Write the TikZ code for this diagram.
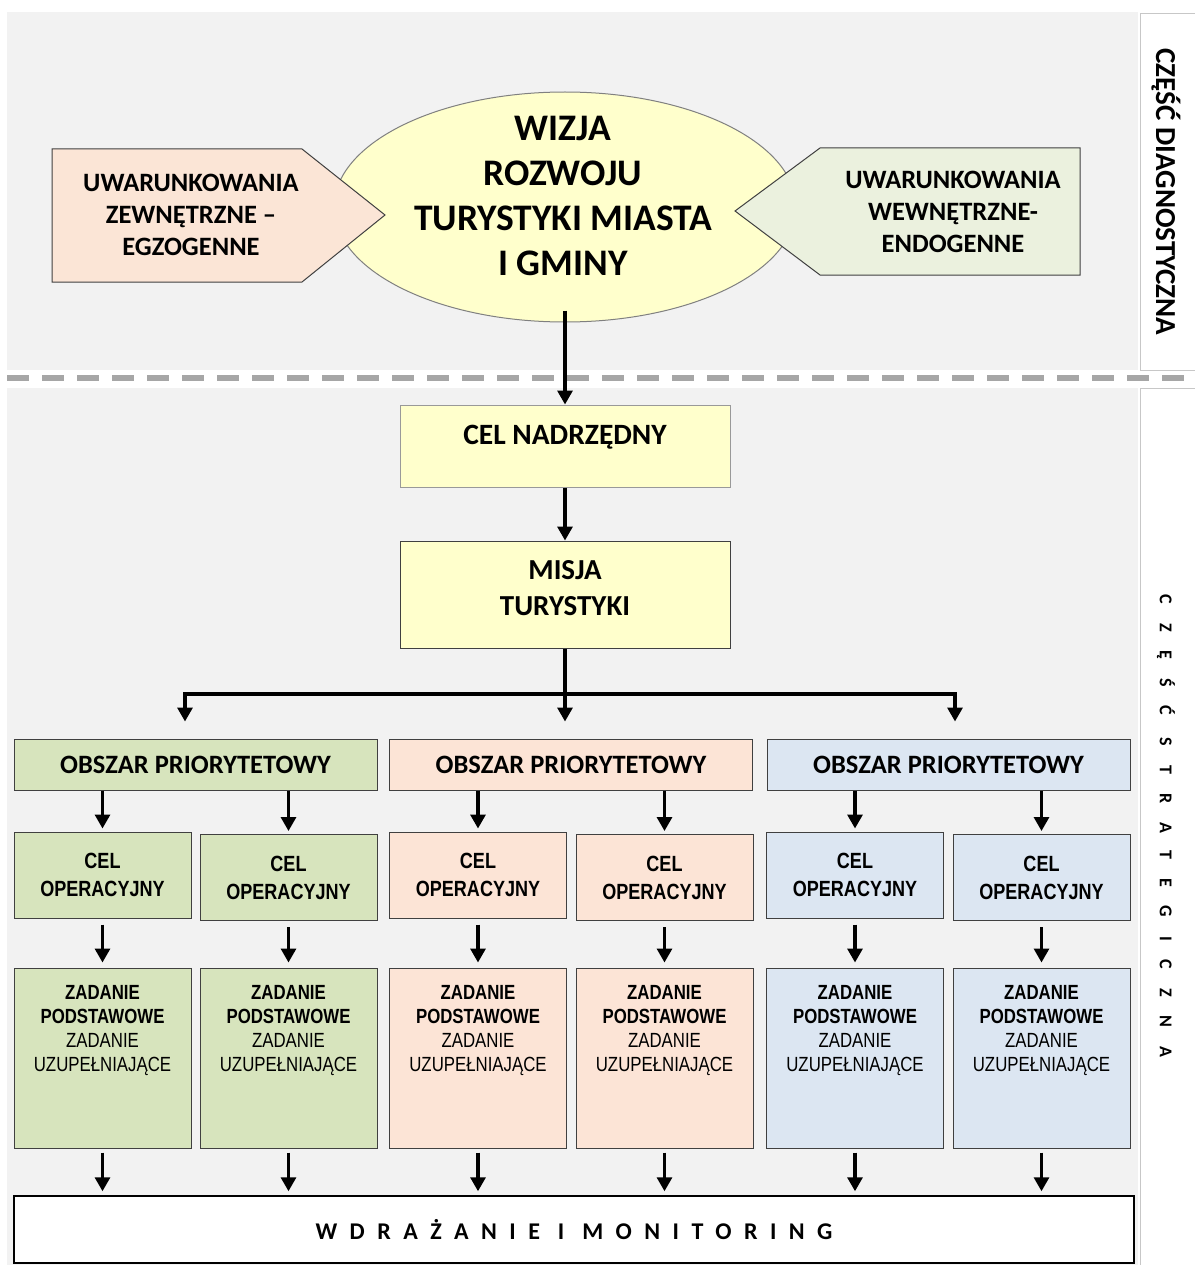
\documentclass[tikz,border=0pt]{standalone}
\usepackage{fontspec}
\setmainfont{Carlito}
\newfontfamily\narrowfont[FakeStretch=0.82]{Liberation Sans}
\usetikzlibrary{shapes.geometric,arrows.meta}

\definecolor{panelgray}{HTML}{F2F2F2}
\definecolor{visionyellow}{HTML}{FFFFCC}
\definecolor{extorange}{HTML}{FBE5D6}
\definecolor{intgreen}{HTML}{EBF1DE}
\definecolor{areagreen}{HTML}{D7E4BD}
\definecolor{areaorange}{HTML}{FCE4D6}
\definecolor{areablue}{HTML}{DCE6F2}

\newcommand\setfs[2]{\fontsize{#1}{#2}\selectfont}

\tikzset{
  frame/.style={draw=black!75, line width=1pt, inner sep=0pt, align=center},
  flow/.style={line width=3.2pt, -{Triangle[width=15pt,length=14pt]}},
  areabox/.style={frame, minimum width=363, minimum height=51, font=\bfseries\setfs{26.5}{30}},
  opbox/.style={frame, minimum width=177, minimum height=86, font=\narrowfont\bfseries\setfs{22}{28}},
  taskbox/.style={frame, minimum width=177, minimum height=180, text depth=59pt, font=\narrowfont\setfs{20.5}{24}},
}

\begin{document}
\begin{tikzpicture}[x=1pt,y=-1pt]
  \useasboundingbox (0,0) rectangle (1194,1265);

  %%%%% background %%%%%
  \fill[panelgray] (7,12) rectangle (1138,370);
  \fill[panelgray] (7,388) rectangle (1138,1265);
  \draw[black!22, fill=white] (1140,13) rectangle (1197,370);
  \draw[black!22, fill=white] (1140,388) rectangle (1197,1268);
  \draw[black!35, line width=6pt, dash pattern=on 22pt off 13pt] (7,378) -- (1194,378);

  \node[rotate=-90, font=\bfseries\setfs{29}{32}] (diag) at (1166,192) {CZĘŚĆ DIAGNOSTYCZNA};
  \node[rotate=-90, font=\bfseries\setfs{18}{20}\addfontfeature{LetterSpace=105}] (strat) at (1166,826) {CZĘŚĆ STRATEGICZNA};

  %%%%% diagnostic part %%%%%
  \node[ellipse, draw=black!50, line width=1pt, fill=visionyellow, minimum width=462, minimum height=230, inner sep=0pt] (wizja) at (565,207) {};
  \node[align=center, font=\bfseries\setfs{37.5}{45}] (wizjatxt) at (563,196) {WIZJA\\ROZWOJU\\TURYSTYKI MIASTA\\I GMINY};

  \draw[frame, fill=extorange] (52,149) -- (302,149) -- (385,215) -- (302,282) -- (52,282) -- cycle;
  \node[align=center, font=\bfseries\setfs{26.5}{32}] (egzo) at (191,215) {UWARUNKOWANIA\\ZEWNĘTRZNE --\\EGZOGENNE};

  \draw[frame, fill=intgreen] (1080,148) -- (820,148) -- (735,211) -- (820,275) -- (1080,275) -- cycle;
  \node[align=center, font=\bfseries\setfs{26.5}{32}] (endo) at (953,212) {UWARUNKOWANIA\\WEWNĘTRZNE-\\ENDOGENNE};

  %%%%% strategic part %%%%%
  \node[frame, draw=black!40, fill=visionyellow, minimum width=330, minimum height=82, text depth=22pt, font=\bfseries\setfs{29.5}{32}] (nadrz) at (565,446) {CEL NADRZĘDNY};
  \node[frame, fill=visionyellow, minimum width=330, minimum height=107, text depth=13pt, font=\bfseries\setfs{29}{36}] (misja) at (565,594.5) {MISJA\\TURYSTYKI};

  \foreach \col/\cx/\clr in {1/195.5/areagreen, 2/571/areaorange, 3/948.5/areablue}
    \node[areabox, fill=\clr] (area\col) at (\cx,764.5) {OBSZAR PRIORYTETOWY};

  \node[frame, draw=black, line width=1.5pt, fill=white, minimum width=1120, minimum height=67,
        font=\bfseries\setfs{24}{26}\addfontfeature{LetterSpace=52}] (wdr) at (574,1229.5) {WDRAŻANIE I MONITORING};

  \foreach \k/\cx/\cy/\clr in {1/102.5/875/areagreen, 2/288.5/877.5/areagreen,
                               3/478/875/areaorange, 4/664.5/877.5/areaorange,
                               5/855/875/areablue, 6/1041.5/877.5/areablue} {
    \node[opbox, fill=\clr] (op\k) at (\cx,\cy) {CEL\\OPERACYJNY};
    \node[taskbox, fill=\clr] (task\k) at (\cx,1058) {\textbf{ZADANIE}\\\textbf{PODSTAWOWE}\\ZADANIE\\UZUPEŁNIAJĄCE};
  }

  %%%%% connectors %%%%%
  \draw[flow] ([yshift=12pt]wizja.south) -- (nadrz.north);
  \draw[flow] (nadrz.south) -- (misja.north);

  \coordinate (hubL) at (185,694);
  \coordinate (hubR) at (955,694);
  \draw[line width=3.6pt, line cap=rect] (hubL) -- (hubR);
  \draw[flow, shorten >=17pt] (misja.south) -- (misja.south |- area2.north);
  \draw[flow, shorten >=17pt] (hubL) -- (hubL |- area1.north);
  \draw[flow, shorten >=17pt] (hubR) -- (hubR |- area3.north);

  \foreach \k/\a in {1/1, 2/1, 3/2, 4/2, 5/3, 6/3}
    \draw[flow, shorten >=3pt] (area\a.south -| op\k.north) -- (op\k.north);
  \foreach \k in {1,...,6} {
    \draw[flow, shorten <=6pt, shorten >=5pt] (op\k.south) -- (task\k.north);
    \draw[flow, shorten <=4pt, shorten >=4pt] (task\k.south) -- (task\k.south |- wdr.north);
  }
\end{tikzpicture}
\end{document}
